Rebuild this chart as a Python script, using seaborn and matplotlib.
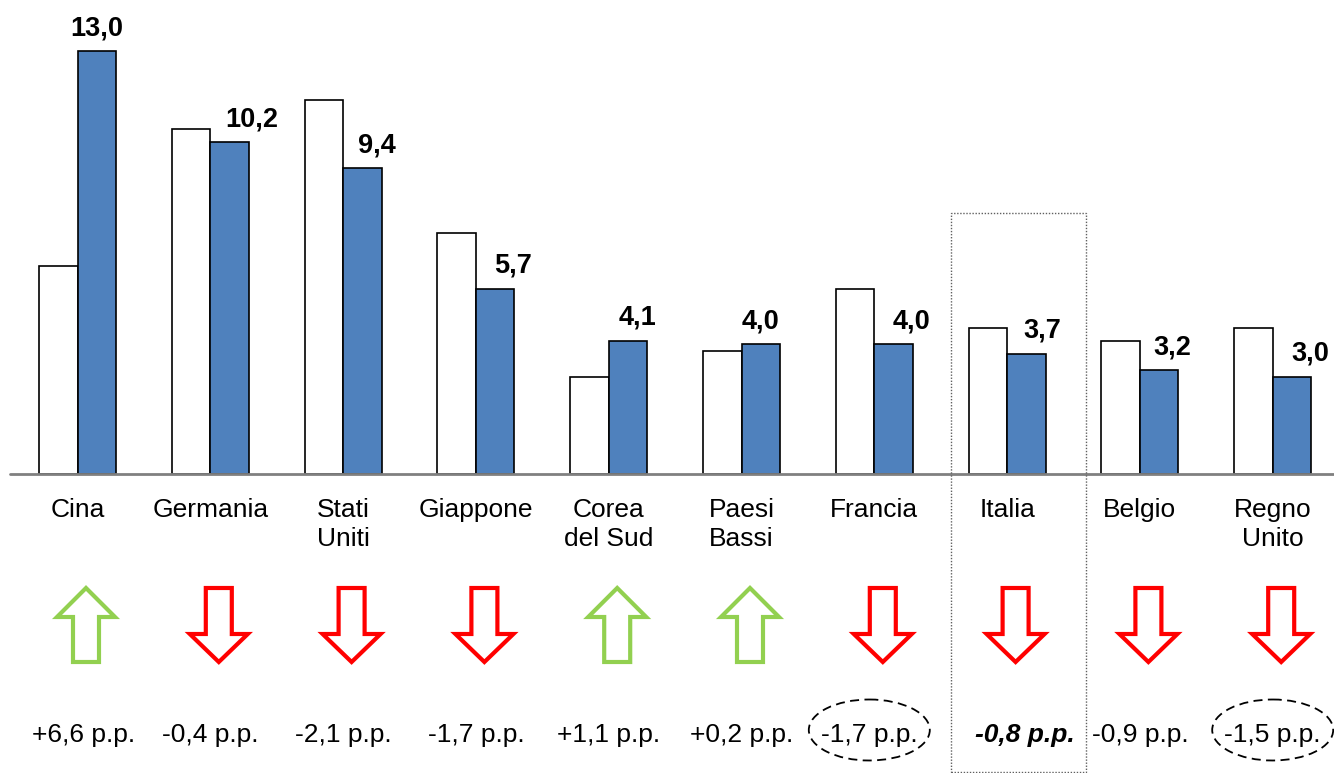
import numpy as np
import pandas as pd
import matplotlib
matplotlib.use("Agg")
import matplotlib.pyplot as plt
from matplotlib.patches import Polygon, Ellipse, Rectangle
import seaborn as sns

# ---------------- data ----------------
paesi = ["Cina", "Germania", "Stati\nUniti", "Giappone", "Corea\ndel Sud",
         "Paesi\nBassi", "Francia", "Italia", "Belgio", "Regno\nUnito"]
quota_prima = [6.4, 10.6, 11.5, 7.4, 3.0, 3.8, 5.7, 4.5, 4.1, 4.5]
quota_ultima = [13.0, 10.2, 9.4, 5.7, 4.1, 4.0, 4.0, 3.7, 3.2, 3.0]
variazione = [6.6, -0.4, -2.1, -1.7, 1.1, 0.2, -1.7, -0.8, -0.9, -1.5]
periodi = ["prima", "ultima"]
evidenziato = "Italia"
cerchiati = ["Francia", "Regno\nUnito"]

# ---------------- layout / style ----------------
W, H = 1334, 773
BASE_Y = 474.3           # pixel row of baseline
PX_PER_UNIT_Y = 32.56    # vertical scale
GROUP_PX = 132.8         # pixels between groups
FIRST_CX = 77.5          # pixel x of first group centre
BLUE = "#4F81BD"
GREEN = "#92D050"
RED = "#FF0000"
FONT = "Liberation Sans"
value_nudge_px = [0, 22, 15, 18, 9.5, 0, 17.5, 16, 13, 18]

df = pd.DataFrame({
    "paese": paesi * 2,
    "quota": quota_prima + quota_ultima,
    "periodo": [periodi[0]] * len(paesi) + [periodi[1]] * len(paesi),
})

sns.set_theme(style="white")
plt.rcParams["font.family"] = [FONT, "DejaVu Sans"]

fig = plt.figure(figsize=(W / 100, H / 100), dpi=100)
fig.patch.set_facecolor("white")

bottom_frac = (H - BASE_Y) / H
ax = fig.add_axes([0, bottom_frac, 1, 1 - bottom_frac])
bax = fig.add_axes([0, 0, 1, bottom_frac])

sns.barplot(data=df, x="paese", y="quota", hue="periodo", order=paesi,
            hue_order=periodi, palette=["white", BLUE], saturation=1,
            edgecolor="black", linewidth=1.2, width=0.58, gap=0,
            errorbar=None, legend=False, ax=ax, zorder=2)

xlim = (-FIRST_CX / GROUP_PX, (W - FIRST_CX) / GROUP_PX)
ax.set_xlim(*xlim)
ax.set_ylim(0, BASE_Y / PX_PER_UNIT_Y)
for a in (ax, bax):
    for s in a.spines.values():
        s.set_visible(False)
    a.set_xticks([])
    a.set_yticks([])
    a.set_xlabel("")
    a.set_ylabel("")
    a.patch.set_alpha(0)

# baseline
ax.axhline(0, xmin=10 / W, xmax=1, color="#808080", lw=2.0, zorder=3, clip_on=False)

# value labels above blue bars
bar_w = 0.29
for i, v in enumerate(quota_ultima):
    ax.annotate(f"{v:.1f}".replace(".", ","), xy=(i + bar_w / 2, v),
                xytext=(value_nudge_px[i] * 0.72, 16 * 0.72), textcoords="offset points",
                ha="center", va="baseline", fontsize=19.5, fontweight="bold",
                color="black", zorder=4)

# bottom area: y in pixel rows
bax.set_xlim(*xlim)
bax.set_ylim(H, BASE_Y)

sx = 1 / GROUP_PX  # data units per pixel in x
for i, name in enumerate(paesi):
    # category label, one text per line
    for j, line in enumerate(name.split("\n")):
        bax.text(i, 517 + 29.5 * j, line, ha="center", va="baseline",
                 fontsize=19, color="black")

    # arrows
    cx = i + 8.5 * sx
    hw, sw = 29 * sx, 13 * sx
    top, bot = 588, 662
    if variazione[i] >= 0:
        neck = 617
        pts = [(cx, top), (cx + hw, neck), (cx + sw, neck), (cx + sw, bot),
               (cx - sw, bot), (cx - sw, neck), (cx - hw, neck)]
        col = GREEN
    else:
        neck = 634
        pts = [(cx - sw, top), (cx + sw, top), (cx + sw, neck), (cx + hw, neck),
               (cx, bot), (cx - hw, neck), (cx - sw, neck)]
        col = RED
    bax.add_patch(Polygon(pts, closed=True, facecolor="white", edgecolor=col,
                          lw=3.0, joinstyle="miter"))

    # change labels
    txt = f"{variazione[i]:+.1f}".replace(".", ",") + " p.p."
    if name == evidenziato:
        bax.text(i + 18 * sx, 742, txt, ha="center", va="baseline", fontsize=19,
                 fontweight="bold", fontstyle="italic", color="black")
    else:
        nud = -5 * sx if name == "Francia" else (6 * sx if i == 0 else 0)
        bax.text(i + nud, 742, txt, ha="center", va="baseline", fontsize=19,
                 color="black")
    if name in cerchiati:
        ecx = i - 5 * sx if name == "Francia" else i
        bax.add_patch(Ellipse((ecx, 730), 121 * sx, 61, facecolor="none",
                              edgecolor="black", lw=1.3, ls=(0, (5, 3))))

# dotted box around highlighted country
k = paesi.index(evidenziato)
cxp = FIRST_CX + k * GROUP_PX
x0p, x1p, y0p, y1p = cxp - 56.5, cxp + 78.5, 212.7, 771.5
fig.patches.append(Rectangle((x0p / W, 1 - y1p / H), (x1p - x0p) / W, (y1p - y0p) / H,
                             transform=fig.transFigure, fill=False, edgecolor="#606060",
                             lw=1.0, ls=(0, (1, 1.2)), zorder=5))

fig.savefig("out.png", dpi=100, facecolor="white")
